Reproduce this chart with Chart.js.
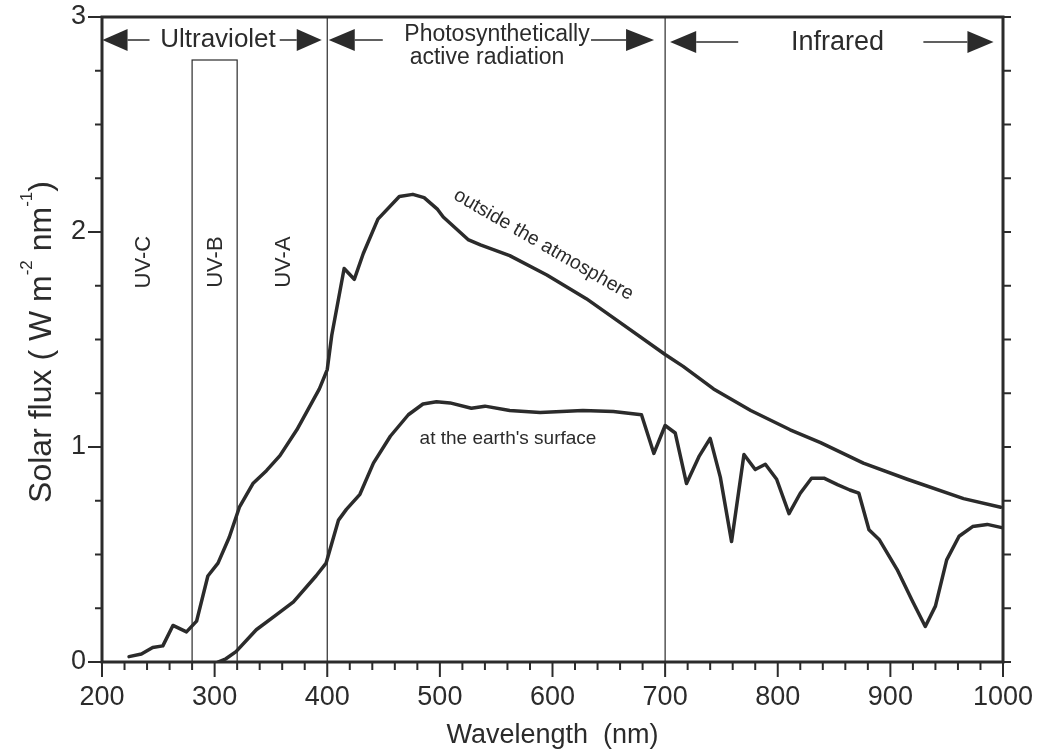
<!DOCTYPE html>
<html>
<head>
<meta charset="utf-8">
<title>Solar flux spectrum</title>
<script src="https://cdn.jsdelivr.net/npm/chart.js@4.4.1/dist/chart.umd.min.js"></script>
<style>
  html, body { margin: 0; padding: 0; background: #fff; }
  #wrap { width: 1044px; height: 754px; }
</style>
</head>
<body>
<div id="wrap"><canvas id="fluxChart" width="1044" height="754"></canvas></div>
<script>
// wavelength (nm) / solar flux (W m-2 nm-1)
const outsideNm = [224, 235, 245, 254, 263, 275, 284, 294, 303, 313, 322, 334, 346, 358, 373, 393, 400, 404,
    415, 424, 432, 445, 464, 476, 486, 498, 503, 525, 536, 562, 595, 630, 657, 700, 716, 743, 776, 811, 838,
    876, 915, 965, 998];
const outsideFlux = [0.025, 0.037, 0.067, 0.075, 0.17, 0.14, 0.19, 0.40, 0.46, 0.58, 0.72, 0.83, 0.89, 0.96,
    1.08, 1.27, 1.36, 1.52, 1.83, 1.78, 1.90, 2.06, 2.165, 2.175, 2.16, 2.105, 2.07, 1.965, 1.94, 1.89, 1.80,
    1.69, 1.59, 1.43, 1.375, 1.27, 1.17, 1.08, 1.02, 0.925, 0.85, 0.76, 0.72];

const surfaceNm = [303, 310, 319, 337, 355, 370, 390, 399, 410, 417, 429, 441, 456, 472, 485, 497, 509, 528,
    540, 562, 589, 627, 654, 679, 690, 700, 709, 719, 730, 740, 749, 759, 770, 780, 789, 799, 810, 820, 830,
    841, 853, 864, 872, 881, 890, 906, 919, 931, 940, 950, 961, 973, 986, 999];
const surfaceFlux = [0, 0.015, 0.048, 0.15, 0.22, 0.28, 0.40, 0.46, 0.66, 0.71, 0.78, 0.925, 1.05, 1.15, 1.20,
    1.21, 1.205, 1.18, 1.19, 1.17, 1.16, 1.17, 1.165, 1.15, 0.97, 1.10, 1.065, 0.83, 0.955, 1.04, 0.86, 0.56,
    0.965, 0.895, 0.92, 0.85, 0.69, 0.785, 0.855, 0.855, 0.825, 0.80, 0.785, 0.615, 0.57, 0.43, 0.29, 0.165,
    0.26, 0.475, 0.585, 0.63, 0.64, 0.625];

const xTickValues = [200, 300, 400, 500, 600, 700, 800, 900, 1000];
const yTickValues = [0, 1, 2, 3];

const ink = '#2b2b2b';
const family = '"Liberation Sans", Arial, Helvetica, sans-serif';

function seg(ctx, x1, y1, x2, y2) {
    ctx.beginPath();
    ctx.moveTo(x1, y1);
    ctx.lineTo(x2, y2);
    ctx.stroke();
}

function arrowHead(ctx, tip, base, y, half) {
    ctx.beginPath();
    ctx.moveTo(tip, y);
    ctx.lineTo(base, y - half);
    ctx.lineTo(base, y + half);
    ctx.closePath();
    ctx.fill();
}

// keep the plot box fixed: no extra room for overhanging tick labels
function fixScale(s, size) {
    if (s.isHorizontal()) s.height = size; else s.width = size;
    s.paddingTop = s.paddingBottom = s.paddingLeft = s.paddingRight = 0;
}

// region markers, boxes, tick marks and labels drawn on top of the Chart.js scales
const spectrumDecor = {
    id: 'spectrumDecor',
    beforeDatasetsDraw(chart) {
        const { ctx, chartArea: a, scales: { x, y } } = chart;
        ctx.save();
        ctx.strokeStyle = ink;
        ctx.lineWidth = 1.2;
        [400, 700].forEach(v => {
            const px = x.getPixelForValue(v);
            seg(ctx, px, a.top, px, a.bottom);
        });
        // UV-B band
        const l = x.getPixelForValue(280), r = x.getPixelForValue(320), t = y.getPixelForValue(2.8);
        ctx.strokeRect(l, t, r - l, a.bottom - t);

        ctx.fillStyle = ink;
        ctx.font = '22px ' + family;
        ctx.textAlign = 'center';
        ctx.textBaseline = 'middle';
        [['UV-C', 237], ['UV-B', 301], ['UV-A', 361.5]].forEach(([txt, nm]) => {
            ctx.save();
            ctx.translate(x.getPixelForValue(nm), y.getPixelForValue(1.86));
            ctx.rotate(-Math.PI / 2);
            ctx.fillText(txt, 0, 0);
            ctx.restore();
        });
        ctx.restore();
    },
    afterDraw(chart) {
        const { ctx, chartArea: a, scales: { x, y } } = chart;
        ctx.save();
        ctx.strokeStyle = ink;
        ctx.fillStyle = ink;

        // frame
        ctx.lineWidth = 3;
        ctx.strokeRect(a.left, a.top, a.right - a.left, a.bottom - a.top);

        // tick marks
        ctx.lineWidth = 2;
        for (let v = 200; v <= 1000; v += 20) {
            const px = x.getPixelForValue(v);
            seg(ctx, px, a.bottom, px, a.bottom + (v % 100 === 0 ? 15 : 8));
        }
        for (let v = 0; v <= 3; v += 0.25) {
            const py = y.getPixelForValue(v);
            const len = Number.isInteger(v) ? 14 : 7;
            seg(ctx, a.left - len, py, a.left, py);
            seg(ctx, a.right, py, a.right + 8, py);
        }

        // band headers with arrows
        const px = v => x.getPixelForValue(v);
        const bands = [
            { lines: ['Ultraviolet'], size: 26, ty: [40], ay: 40, pts: [200.4, 222.7, 242.2, 303, 357.8, 372.9, 395.1] },
            { lines: ['Photosynthetically', 'active radiation'], size: 23, ty: [35, 58], ay: 40, pts: [401.3, 424.4, 449.3, 550.7, 634.2, 665.3, 690.2] },
            { lines: ['Infrared'], size: 27, ty: [43], ay: 42, pts: [704.4, 727.6, 764.9, 853, 929.3, 968.4, 991.6] }
        ];
        ctx.lineWidth = 1.5;
        ctx.textAlign = 'center';
        ctx.textBaseline = 'middle';
        bands.forEach(b => {
            const [tipL, baseL, gapL, mid, gapR, baseR, tipR] = b.pts.map(px);
            arrowHead(ctx, tipL, baseL, b.ay, 11);
            arrowHead(ctx, tipR, baseR, b.ay, 11);
            seg(ctx, baseL, b.ay, gapL, b.ay);
            seg(ctx, gapR, b.ay, baseR, b.ay);
            ctx.font = b.size + 'px ' + family;
            b.lines.forEach((txt, i) => ctx.fillText(txt, mid - (i ? 10 : 0), b.ty[i]));
        });

        // curve labels
        ctx.font = '19.5px ' + family;
        ctx.save();
        ctx.translate(px(592), y.getPixelForValue(1.94));
        ctx.rotate(30 * Math.PI / 180);
        ctx.fillText('outside the atmosphere', 0, 0);
        ctx.restore();
        ctx.font = '19px ' + family;
        ctx.fillText("at the earth's surface", px(560.5), y.getPixelForValue(1.04));

        // y axis title with superscripts
        const big = '32px ' + family, small = '17px ' + family;
        const parts = [['Solar flux ( W m', big, 0], ['-2', small, 19], [' nm', big, 0], ['-1', small, 19], [')', big, 0]];
        let total = 0;
        parts.forEach(p => { ctx.font = p[1]; total += ctx.measureText(p[0]).width; });
        ctx.translate(51, 342);
        ctx.rotate(-Math.PI / 2);
        ctx.textAlign = 'left';
        ctx.textBaseline = 'alphabetic';
        let cx = -total / 2;
        parts.forEach(p => {
            ctx.font = p[1];
            ctx.fillText(p[0], cx, -p[2]);
            cx += ctx.measureText(p[0]).width;
        });
        ctx.restore();
    }
};

new Chart(document.getElementById('fluxChart'), {
    type: 'line',
    data: {
        datasets: [{
            label: 'outside the atmosphere',
            data: outsideNm.map((v, i) => ({ x: v, y: outsideFlux[i] })),
            borderColor: ink,
            borderWidth: 3.5,
            borderJoinStyle: 'round',
            borderCapStyle: 'round',
            pointRadius: 0,
            tension: 0,
            fill: false
        }, {
            label: "at the earth's surface",
            data: surfaceNm.map((v, i) => ({ x: v, y: surfaceFlux[i] })),
            borderColor: ink,
            borderWidth: 3.5,
            borderJoinStyle: 'round',
            borderCapStyle: 'round',
            pointRadius: 0,
            tension: 0,
            fill: false
        }]
    },
    options: {
        responsive: false,
        animation: false,
        devicePixelRatio: 1,
        layout: { padding: { top: 17, right: 41, left: 0, bottom: 0 } },
        plugins: { legend: { display: false }, tooltip: { enabled: false } },
        scales: {
            x: {
                type: 'linear',
                min: 200,
                max: 1000,
                afterFit: s => fixScale(s, 92),
                afterBuildTicks: s => { s.ticks = xTickValues.map(v => ({ value: v })); },
                grid: { display: false, drawTicks: false },
                border: { display: false },
                ticks: { color: ink, font: { family: family, size: 27 }, padding: 19, maxRotation: 0, autoSkip: false, callback: v => String(v) },
                title: { display: true, text: 'Wavelength  (nm)', color: ink, font: { family: family, size: 27 }, padding: { top: 0, bottom: 2 } }
            },
            y: {
                min: 0,
                max: 3,
                afterFit: s => fixScale(s, 102),
                afterBuildTicks: s => { s.ticks = yTickValues.map(v => ({ value: v })); },
                grid: { display: false, drawTicks: false },
                border: { display: false },
                ticks: { color: ink, font: { family: family, size: 27 }, padding: 16, callback: v => String(v) }
            }
        }
    },
    plugins: [spectrumDecor]
});
</script>
</body>
</html>
